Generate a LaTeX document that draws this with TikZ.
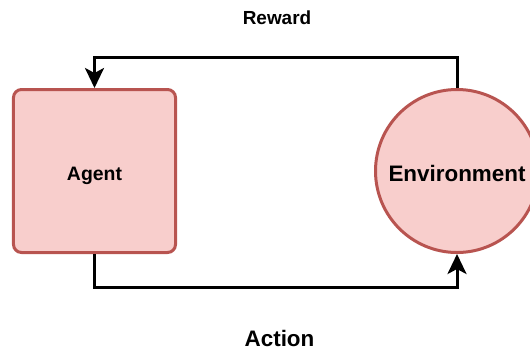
\documentclass[tikz,border=0pt]{standalone}
\usepackage{fontspec}
\setmainfont{Liberation Sans}
\usetikzlibrary{arrows.meta}
\definecolor{boxfill}{HTML}{F8CECC}
\definecolor{boxline}{HTML}{B85450}
\begin{document}
\begin{tikzpicture}[x=1bp,y=-1bp,
  block/.style={draw=boxline,fill=boxfill,line width=3bp,inner sep=0pt,font=\bfseries},
  conn/.style={draw=black,line width=3bp,-{Stealth[length=20bp,width=19bp,inset=5bp]}},
  lbl/.style={font=\bfseries,inner sep=0pt}]
\useasboundingbox (0,0) rectangle (530,351);
\node[block,rectangle,rounded corners=8bp,minimum width=162bp,minimum height=163bp,text height=18bp,text depth=0pt,font=\fontsize{19.5}{22}\bfseries] (agent) at (94.5,171) {Agent};
\node[block,circle,minimum size=163bp,text height=20bp,text depth=0pt,font=\fontsize{22.5}{26}\bfseries] (env) at (457,171) {Environment};
\coordinate (top) at (0,57);
\coordinate (bot) at (0,287);
\draw[conn] (env.north) -- (env.north |- top) -| (agent.north);
\draw[conn] (agent.south) -- (agent.south |- bot) -| (env.south);
\node[lbl,font=\fontsize{19}{22}\bfseries] (reward) at (277,17.5) {Reward};
\node[lbl,font=\fontsize{22.5}{26}\bfseries] (action) at (279.5,338) {Action};
\end{tikzpicture}
\end{document}
